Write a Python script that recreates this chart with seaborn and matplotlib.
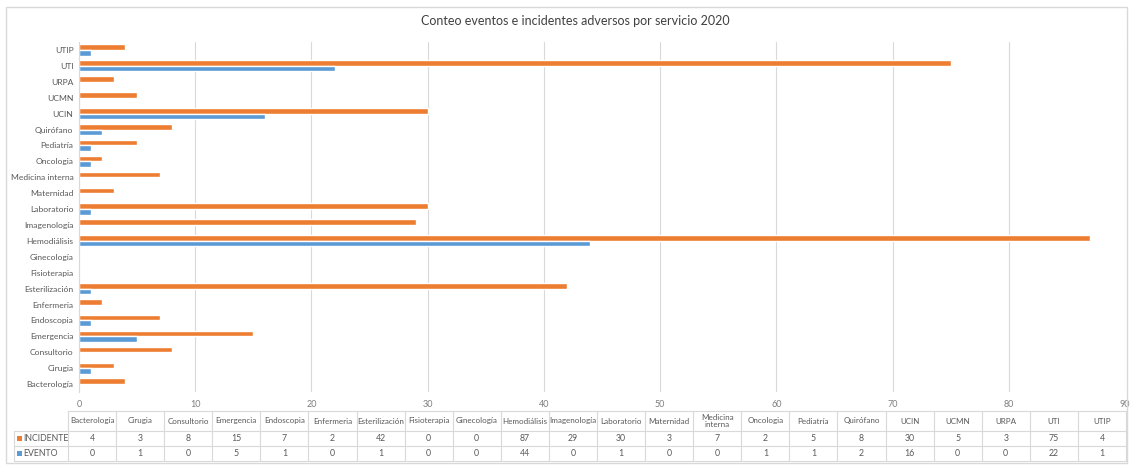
import matplotlib
matplotlib.use("Agg")
import matplotlib.pyplot as plt
import seaborn as sns
import pandas as pd
from matplotlib.patches import Rectangle

# Services (bottom to top on the chart, left to right in the table)
servicios = ["Bacterología", "Cirugia", "Consultorio", "Emergencia", "Endoscopia",
             "Enfermeria", "Esterilización", "Fisioterapia", "Ginecología", "Hemodiálisis",
             "Imagenología", "Laboratorio", "Maternidad", "Medicina interna", "Oncologia",
             "Pediatría", "Quirófano", "UCIN", "UCMN", "URPA", "UTI", "UTIP"]
incidente = [4, 3, 8, 15, 7, 2, 42, 0, 0, 87, 29, 30, 3, 7, 2, 5, 8, 30, 5, 3, 75, 4]
evento = [0, 1, 0, 5, 1, 0, 1, 0, 0, 44, 0, 1, 0, 0, 1, 1, 2, 16, 0, 0, 22, 1]
series = ["INCIDENTE", "EVENTO"]
x_ticks = [0, 10, 20, 30, 40, 50, 60, 70, 80, 90]
titulo = "Conteo eventos e incidentes adversos por servicio 2020"

colores = {"INCIDENTE": "#ED7D31", "EVENTO": "#5B9BD5"}
texto = "#595959"
linea = "#D9D9D9"

sns.set_theme(style="white")
plt.rcParams["font.family"] = ["Lato", "DejaVu Sans"]

df = pd.DataFrame({"Servicio": servicios * 2,
                   "Serie": ["INCIDENTE"] * len(servicios) + ["EVENTO"] * len(servicios),
                   "Valor": incidente + evento})

W, H = 1130, 467
fig = plt.figure(figsize=(W / 100, H / 100), dpi=100)
fig.patch.set_facecolor("white")

def fx(px):
    return px / W

def fy(py):
    return 1 - py / H

# Outer chart border
fig.patches.append(Rectangle((fx(6), fy(463)), fx(1121), 456 / H, transform=fig.transFigure,
                             fill=False, edgecolor=linea, linewidth=1.0))

fig.text(fx(575), fy(21), titulo, ha="center", va="center", fontsize=9, color="#404040")

# Bar chart
left, right, top, bottom = 79, 1125, 42, 392
ax = fig.add_axes([fx(left), fy(bottom), fx(right - left), (bottom - top) / H])
sns.barplot(data=df, y="Servicio", x="Valor", hue="Serie", order=servicios[::-1],
            hue_order=series, palette=colores, orient="h", width=0.7,
            saturation=1, legend=False, ax=ax)
ax.set_xlim(0, 90)
ax.set_xticks(x_ticks)
ax.set_xticklabels([str(t) for t in x_ticks], fontsize=6.5, color="#7F7F7F")
ax.tick_params(axis="x", length=0, pad=6)
ax.tick_params(axis="y", length=0, pad=4, labelsize=6.1, labelcolor=texto)
ax.set_xlabel("")
ax.set_ylabel("")
ax.grid(axis="x", color=linea, linewidth=0.8)
ax.set_axisbelow(True)
for s in ["top", "right", "bottom"]:
    ax.spines[s].set_visible(False)
ax.spines["left"].set_color(linea)
ax.spines["left"].set_linewidth(0.8)
ax.set_facecolor("white")

# Data table below the chart
tab = fig.add_axes([0, 0, 1, 1], facecolor="none")
tab.set_xlim(0, W)
tab.set_ylim(H, 0)
tab.axis("off")

x0, x1, xend = 14, 68, 1126
y0, y1, y2, y3 = 411, 431, 446, 461
ncol = len(servicios)
cw = (xend - x1) / ncol
lk = dict(color=linea, linewidth=0.8)

tab.plot([x1, xend], [y0, y0], **lk)
for yy in (y1, y2, y3):
    tab.plot([x0, xend], [yy, yy], **lk)
tab.plot([x0, x0], [y1, y3], **lk)
for i in range(ncol + 1):
    tab.plot([x1 + i * cw] * 2, [y0, y3], **lk)

for i, nombre in enumerate(servicios):
    cx = x1 + (i + 0.5) * cw
    etiqueta = "Medicina\ninterna" if nombre == "Medicina interna" else nombre
    tab.text(cx, (y0 + y1) / 2, etiqueta, ha="center", va="center", fontsize=5.8,
             color=texto, linespacing=1.0)
    tab.text(cx, (y1 + y2) / 2, str(incidente[i]), ha="center", va="center",
             fontsize=6.3, color=texto)
    tab.text(cx, (y2 + y3) / 2, str(evento[i]), ha="center", va="center",
             fontsize=6.3, color=texto)

for fila, (nombre, yc) in enumerate(zip(series, [(y1 + y2) / 2, (y2 + y3) / 2])):
    tab.add_patch(Rectangle((17, yc - 2.5), 5, 5, color=colores[nombre], linewidth=0))
    tab.text(23, yc, nombre, ha="left", va="center", fontsize=6.3, color=texto)

fig.savefig("out.png", dpi=100, facecolor="white")
